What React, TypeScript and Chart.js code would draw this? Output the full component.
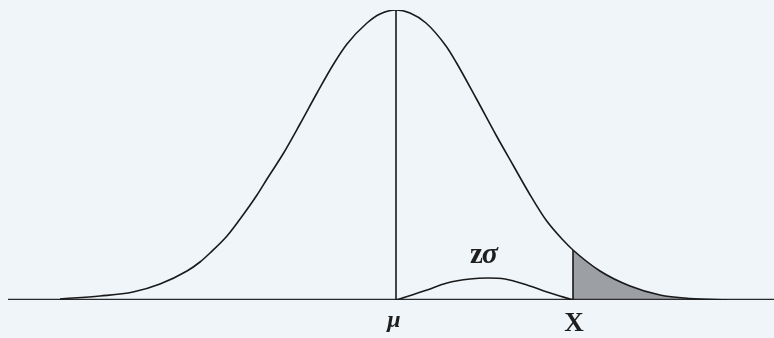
import React, { useEffect, useRef } from "react";
import { Chart, registerables } from "chart.js";

Chart.register(...registerables);

// Normal curve (x position, curve height)
const curveX = [60, 100, 133, 160, 187, 200, 210, 227, 243, 257, 267, 283, 300, 317, 333, 347, 367, 380, 396, 410, 426, 446, 456, 476, 496, 513, 529, 546, 563, 573, 600, 630, 660, 690, 727];
const curveY = [1, 4, 8, 16, 29, 38, 47, 64, 85, 105, 121, 146, 176, 207, 235, 256, 277, 286, 290, 287, 277, 254, 238, 202, 165, 135, 107, 80, 60, 50, 29, 14, 5, 1.5, 0];

// zσ arc between μ and X
const arcX = [396, 427, 447, 470, 488, 505, 527, 547, 573];
const arcY = [0, 10, 17, 21, 22, 21, 15, 8, 0];

// Marks
const muValue = 396;
const peakValue = 290;
const xValue = 573;
const xHeight = 50;
const axisStart = 8;
const axisEnd = 774;

const labelMu = "μ";
const labelX = "X";
const labelZ = "z";
const labelSigma = "σ";

const pts = (xs: number[], ys: number[]) => xs.map((x, i) => ({ x, y: ys[i] }));

export default function App() {
  const ref = useRef<HTMLCanvasElement | null>(null);
  useEffect(() => {
    document.body.style.margin = "0";
    const canvas = ref.current!;
    const curve = pts(curveX, curveY);
    const tail = curve.filter((p) => p.x >= xValue);
    const labelsPlugin = {
      id: "labels",
      beforeDraw(chart: any) {
        const c = chart.ctx;
        c.save();
        c.fillStyle = "#eff5f9";
        c.fillRect(0, 0, chart.width, chart.height);
        c.restore();
      },
      afterDraw(chart: any) {
        const c = chart.ctx;
        const xs = chart.scales.x;
        const ys = chart.scales.y;
        const base = ys.getPixelForValue(0);
        c.save();
        c.fillStyle = "#1e1e1e";
        c.textBaseline = "alphabetic";
        c.textAlign = "left";
        // μ
        c.font = "italic bold 24px 'Liberation Serif'";
        const muW = c.measureText(labelMu).width;
        c.fillText(labelMu, xs.getPixelForValue(muValue) - muW / 2 - 2, base + 27);
        // X
        c.font = "bold 27px 'Liberation Serif'";
        const xW = c.measureText(labelX).width;
        c.fillText(labelX, xs.getPixelForValue(xValue) - xW / 2 + 1, base + 31);
        // zσ
        const midX = xs.getPixelForValue((muValue + xValue) / 2 + 0);
        c.font = "bold 29px 'Liberation Serif'";
        const zW = c.measureText(labelZ).width;
        c.font = "italic bold 30px 'Liberation Serif'";
        const sW = c.measureText(labelSigma).width;
        const start = midX - (zW + sW) / 2;
        c.font = "bold 29px 'Liberation Serif'";
        c.fillText(labelZ, start, base - 37);
        c.font = "italic bold 30px 'Liberation Serif'";
        c.fillText(labelSigma, start + zW - 1, base - 37);
        c.restore();
      },
    };
    const lineStyle = {
      borderColor: "#1a1a1a",
      borderWidth: 1.6,
      pointRadius: 0,
      fill: false,
    };
    const chart = new Chart(canvas, {
      type: "line",
      data: {
        datasets: [
          { ...lineStyle, data: curve, cubicInterpolationMode: "monotone" },
          { ...lineStyle, data: pts([muValue, muValue], [0, peakValue]), tension: 0 },
          { ...lineStyle, data: pts([xValue, xValue], [0, xHeight]), tension: 0 },
          { ...lineStyle, data: pts(arcX, arcY), cubicInterpolationMode: "monotone" },
          {
            ...lineStyle,
            data: pts([axisStart, axisEnd], [0, 0]),
            borderColor: "#2a2a2a",
            borderWidth: 2.4,
            tension: 0,
          },
          {
            data: tail,
            borderWidth: 0,
            borderColor: "rgba(0,0,0,0)",
            backgroundColor: "#9c9fa3",
            pointRadius: 0,
            cubicInterpolationMode: "monotone",
            fill: "origin",
          },
        ],
      },
      options: {
        animation: false,
        responsive: false,
        devicePixelRatio: 1,
        layout: { padding: { top: 10, bottom: 38, left: 0, right: 0 } },
        plugins: { legend: { display: false }, tooltip: { enabled: false } },
        scales: {
          x: { type: "linear", min: 0, max: 774, display: false },
          y: { type: "linear", min: 0, max: 290, display: false },
        },
      } as any,
      plugins: [labelsPlugin],
    });
    return () => chart.destroy();
  }, []);
  return <canvas ref={ref} width={774} height={338} style={{ display: "block" }} />;
}
